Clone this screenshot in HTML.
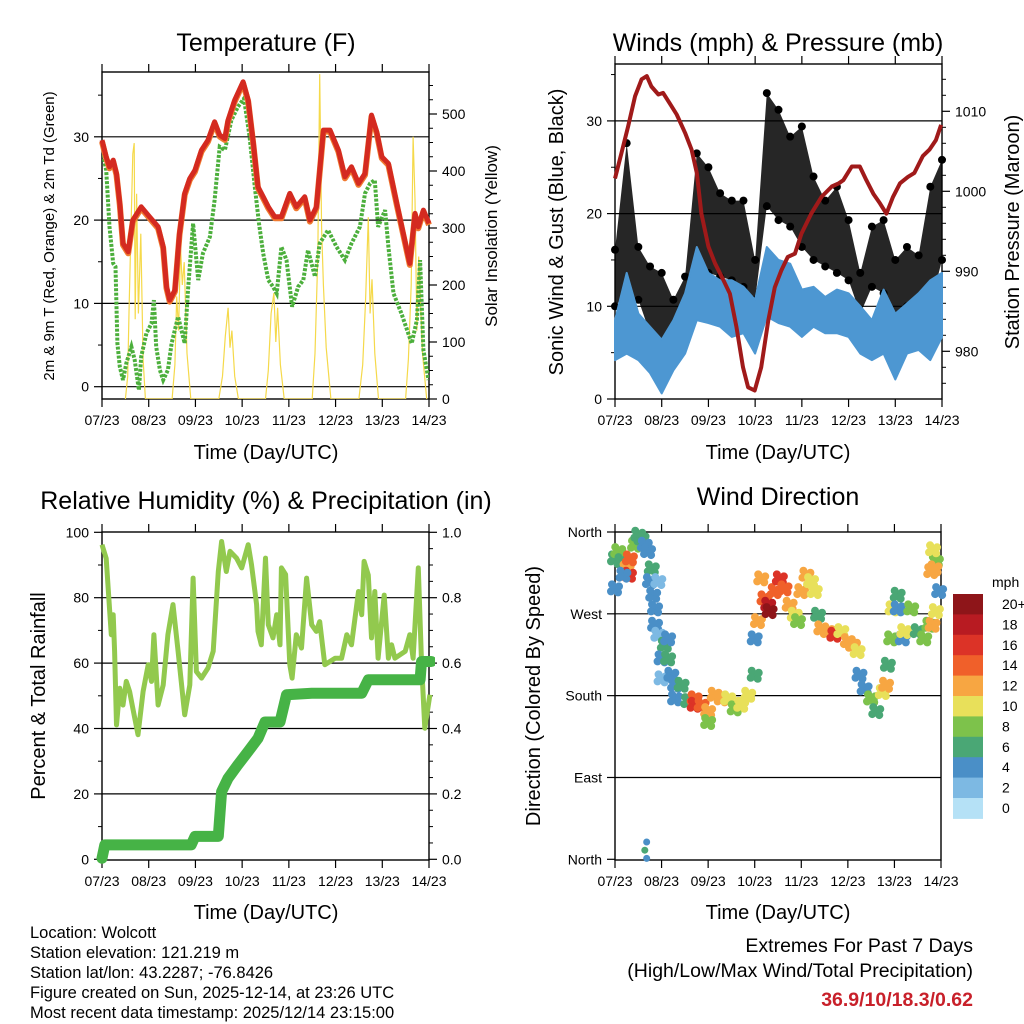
<!DOCTYPE html>
<html><head><meta charset="utf-8"><style>
html,body{margin:0;padding:0;background:#fff;}
svg{display:block;font-family:"Liberation Sans",Arial,sans-serif;}
</style></head><body>
<svg id="chart" width="1024" height="1024" viewBox="0 0 1024 1024" xmlns="http://www.w3.org/2000/svg">
<rect x="0" y="0" width="1024" height="1024" fill="#fff"/>
<g font-size="25" text-anchor="middle" fill="#000">
<text x="266" y="51">Temperature (F)</text>
<text x="778" y="51">Winds (mph) &amp; Pressure (mb)</text>
<text x="266" y="509">Relative Humidity (%) &amp; Precipitation (in)</text>
<text x="778" y="505">Wind Direction</text>
</g>
<g font-size="20" text-anchor="middle" fill="#000">
<text x="266" y="459">Time (Day/UTC)</text>
<text x="778" y="459">Time (Day/UTC)</text>
<text x="266" y="919">Time (Day/UTC)</text>
<text x="778" y="919">Time (Day/UTC)</text>
<text transform="translate(54,236) rotate(-90)" font-size="15">2m &amp; 9m T (Red, Orange) &amp; 2m Td (Green)</text>
<text transform="translate(497,236) rotate(-90)" font-size="17">Solar Insolation (Yellow)</text>
<text transform="translate(563,232) rotate(-90)">Sonic Wind &amp; Gust (Blue, Black)</text>
<text transform="translate(1019,232) rotate(-90)">Station Pressure (Maroon)</text>
<text transform="translate(45,696) rotate(-90)">Percent &amp; Total Rainfall</text>
<text transform="translate(540,696) rotate(-90)">Direction (Colored By Speed)</text>
</g>
<g font-size="16.5" fill="#000">
<text x="30" y="938">Location: Wolcott</text>
<text x="30" y="958">Station elevation: 121.219 m</text>
<text x="30" y="978">Station lat/lon: 43.2287; -76.8426</text>
<text x="30" y="998">Figure created on Sun, 2025-12-14, at 23:26 UTC</text>
<text x="30" y="1018">Most recent data timestamp: 2025/12/14 23:15:00</text>
</g>
<g text-anchor="end" font-size="19.5">
<text x="973" y="952">Extremes For Past 7 Days</text>
<text x="973" y="977">(High/Low/Max Wind/Total Precipitation)</text>
<text x="973" y="1006" font-size="19.5" font-weight="bold" fill="#c8202a">36.9/10/18.3/0.62</text>
</g>
<g id="plots"></g>
</svg>
<script>
// ---- shared
const dayLabels = ["07/23","08/23","09/23","10/23","11/23","12/23","13/23","14/23"];
// ---- temperature panel data (time in days)
const tempT = [0,.09,.16,.24,.31,.38,.45,.56,.66,.84,1.02,1.2,1.31,1.38,1.45,1.56,1.66,1.77,1.88,1.99,2.13,2.27,2.41,2.52,2.63,2.7,2.84,3.02,3.13,3.24,3.34,3.45,3.56,3.7,3.84,4.02,4.16,4.34,4.45,4.59,4.74,4.88,5.06,5.2,5.34,5.49,5.63,5.77,5.88,5.99,6.13,6.31,6.45,6.59,6.7,6.77,6.88,7.0];
const tempV = [29.6,27.6,26.4,27.2,25.6,22,17.2,16.2,20,21.6,20.4,19.2,16.8,12,10.4,11.6,18.4,23.2,25,26,28.4,29.6,31.8,30.2,29.8,32,34.4,36.6,34.4,29.2,24,22.8,21.6,20.4,20.4,23.2,21.6,22.8,20,21.6,30.8,30.8,28.4,25.2,26.4,24.4,25.6,32.6,30.6,27.6,26.8,22,18.4,14.8,20.8,19.2,21.2,19.6];
const dewT = [0,.09,.16,.24,.29,.33,.38,.45,.52,.63,.7,.79,.84,.95,1.06,1.11,1.16,1.24,1.31,1.41,1.49,1.63,1.77,1.84,1.95,2.06,2.16,2.31,2.41,2.52,2.63,2.77,2.91,3.04,3.16,3.27,3.36,3.45,3.56,3.66,3.74,3.84,3.95,4.07,4.2,4.31,4.41,4.56,4.66,4.84,5.02,5.2,5.34,5.52,5.63,5.74,5.84,5.91,6.06,6.13,6.24,6.41,6.63,6.74,6.81,6.88,6.99];
const dewV = [28.4,26,19.2,14.8,14.4,5.2,2.4,0.8,2.8,4.8,3.2,-0.4,3.6,6.4,7.6,10.4,4.8,2,0.8,2,5.2,8.4,5.2,11.6,19.6,12.8,16,18,22.4,28.8,28.4,32,33.6,34.6,30,24,19.6,16,12.8,12,11.2,16.8,15.2,9.6,12,12.8,16.4,13.2,17.2,18.8,16.8,15.2,17.2,19.2,23.2,24.4,24.8,19.2,21.2,16.8,11.2,8.8,5.2,8,15.2,4.4,0.8];
const solarT = [0.5,0.55,0.58,0.62,0.66,0.69,0.71,0.74,0.78,0.83,0.88,0.93, 1.5,1.56,1.6,1.64,1.68,1.72,1.76,1.82,1.9, 2.5,2.58,2.64,2.7,2.74,2.78,2.84,2.92, 3.5,3.56,3.62,3.68,3.72,3.76,3.82,3.9, 4.5,4.56,4.62,4.66,4.7,4.74,4.8,4.9, 5.5,5.58,5.64,5.7,5.74,5.78,5.84,5.92, 6.5,6.56,6.62,6.66,6.7,6.74,6.78,6.86,6.95];
const solarV = [0,40,160,300,430,449,140,360,150,290,70,0, 0,60,180,120,267,200,240,80,0, 0,40,110,160,90,120,40,0, 0,50,150,186,100,160,60,0, 0,80,250,570,300,200,90,0, 0,60,170,319,150,210,80,0, 0,70,200,460,350,120,250,80,0];
// ---- winds panel data
const windT = [0,.25,.5,.75,1,1.25,1.5,1.75,2,2.25,2.5,2.75,3,3.25,3.5,3.75,4,4.25,4.5,4.75,5,5.25,5.5,5.75,6,6.25,6.5,6.75,7];
const windLo = [4.2,4.9,4.2,2.8,0.6,3.1,4.9,8.5,8.2,7.8,6.7,7.1,4.9,8.9,8.2,7.8,6.7,7.8,7.1,7.1,6.7,4.9,4.2,4.9,2.1,4.9,5.3,4.2,6.7];
const windHi = [8.5,13.6,9.2,7.8,6.4,8.5,11.4,16.4,13.6,12.8,12.8,12.1,10.7,16.4,15,14.6,11.8,12.1,11,11.8,11.4,10,8.5,11.8,9.2,10.3,11.4,12.8,13.6];
const gustLo = [10,11.4,10.7,7.1,5.6,6.4,9.2,15,13.6,13.2,12.8,12.1,10.7,20.8,19.3,18.6,16.4,15,14.3,13.6,12.8,9.2,12.1,11.4,8.5,10,10.7,10,15];
const gustHi = [16.1,27.6,16.4,14.3,13.6,10.7,13.2,26.5,25,22.2,21.4,21.4,15,33,31.2,28.3,29.4,24,21.4,22.9,19.3,13.6,18.6,19.3,15,16.4,15.5,22.9,25.8];
const presT = [0,.14,.28,.43,.57,.68,.78,.93,1.03,1.17,1.32,1.5,1.64,1.75,1.85,2,2.14,2.32,2.46,2.6,2.74,2.85,2.99,3.13,3.28,3.42,3.56,3.7,3.85,3.99,4.2,4.42,4.64,4.79,4.89,5.07,5.24,5.38,5.53,5.67,5.81,5.95,6.1,6.27,6.41,6.59,6.73,6.87,6.98];
const presV = [1001.6,1004.8,1008.1,1011.9,1014,1014.4,1013.1,1012.1,1012.3,1011,1009.6,1007.3,1005.2,1002.3,997.2,993.1,991,988.9,987.2,983,978,975.5,975.1,978,983.8,988,990.1,991.8,992.2,994.7,997.2,999.3,1000.6,1001,1001.4,1003.1,1003.1,1001.4,999.7,998.5,997.2,999.3,1001,1001.8,1002.3,1004.4,1005.2,1006.4,1008.3];
// ---- humidity panel data
const rhT = [0,.09,.16,.2,.24,.27,.31,.38,.45,.52,.59,.66,.77,.88,.99,1.06,1.11,1.2,1.31,1.41,1.52,1.63,1.77,1.88,1.95,2.02,2.13,2.27,2.38,2.49,2.56,2.66,2.74,2.88,2.99,3.13,3.2,3.31,3.34,3.41,3.5,3.56,3.66,3.74,3.81,3.84,3.93,4.02,4.07,4.16,4.27,4.38,4.49,4.59,4.66,4.77,4.99,5.13,5.24,5.34,5.49,5.56,5.61,5.7,5.77,5.84,5.91,6.04,6.13,6.2,6.27,6.49,6.59,6.66,6.77,6.84,6.91,7.02];
const rhV = [96.2,92,76.8,68.7,74.8,63.6,41.1,52.3,47.2,54.4,51.3,46.2,38.1,51.3,59.5,54.4,68.7,47.2,53.3,68.7,77.9,63.6,44.2,53.3,86,57.4,55.4,58.5,63.6,88,97.2,88,94.2,92.1,89.1,96.2,90.1,77.9,69.7,65.6,92.1,71.7,67.7,74.8,65.6,89.1,87.1,59.5,55.4,68.7,64.6,86,71.7,69.7,72.7,59.5,61.5,61.5,68.7,65.6,81.9,74.8,91.1,86.9,67.7,81.9,61.5,80.8,61.5,65.6,61.5,63.6,68.7,61.5,89.1,60.5,40.1,50.3];
const rainT = [0,.06,1.91,1.99,2.49,2.56,2.7,2.91,3.13,3.34,3.49,3.81,3.95,4.49,5.56,5.7,6.81,6.84,7.05];
const rainV = [0.003,0.044,0.044,0.07,0.07,0.207,0.248,0.289,0.33,0.37,0.42,0.42,0.503,0.508,0.508,0.549,0.549,0.605,0.605];
// ---- wind direction data
const dirT = [0,.07,.14,.25,.32,.3,.18,0,.43,.5,.57,.64,.71,.79,.75,.93,.82,.86,.86,.93,1.07,1.14,1,1,1.14,1.21,1.29,1.43,1.29,1.57,1.71,1.71,1.86,2,2,2.14,2.29,2.43,2.57,2.71,2.86,3,3,3.07,3.14,3.21,3.29,3.32,3.43,3.54,3.64,3.75,3.86,3.93,4,4.11,4.21,4.29,4.36,4.43,4.57,4.71,4.86,5,5.11,5.21,5.25,5.36,5.5,5.5,5.61,5.75,5.82,5.86,5.93,5.96,6.07,6.07,6.18,6.21,6.36,6.5,6.64,6.75,6.82,6.89,6.96,6.89,6.86,6.79,6.83];
const dirV = [331,339,328,320,331,313,313,298,346,357,353,346,339,320,306,306,291,276,258,247,236,243,221,199,221,203,192,192,177,174,177,170,170,163,151,181,177,177,166,170,181,203,243,262,309,287,280,273,295,309,298,280,269,262,295,313,306,295,269,254,251,247,251,240,236,229,203,188,177,177,163,184,192,214,243,276,291,276,243,251,276,251,243,258,258,273,295,328,320,317,341];
const dirS = [6,8,6,12,14,16,4,4,8,6,6,4,4,6,4,2,4,4,4,2,6,4,4,2,6,4,4,6,4,6,14,16,14,12,8,12,12,10,8,10,10,6,4,12,12,14,18,20,14,16,14,12,10,8,12,12,10,10,6,12,12,16,10,12,12,10,4,4,6,8,6,10,12,6,8,10,6,4,4,10,8,6,8,8,12,10,4,8,12,12,10];
const dirExtraT = [0.68,0.64,0.68];
const dirExtraV = [19,10,1];
const dirExtraS = [4,6,4];
const speedColors = ["#b5e1f6","#7db9e3","#4a8fc7","#4aa775","#7dc24b","#e8e05a","#f7a642","#f0602a","#dc3327","#b81b22","#8e1519"];
const speedLabels = ["0","2","4","6","8","10","12","14","16","18","20+"];

const NS="http://www.w3.org/2000/svg";
const root=document.getElementById("plots");
function mk(tag,attrs,parent){const e=document.createElementNS(NS,tag);for(const k in attrs)e.setAttribute(k,attrs[k]);(parent||root).appendChild(e);return e;}
function pathFrom(ts,vs,fx,fy){return ts.map((t,i)=>(i?"L":"M")+fx(t).toFixed(1)+","+fy(vs[i]).toFixed(1)).join(" ");}

function frame(L,T,R,B,name){
  const g=mk("g",{});
  
  
  for(let d=0;d<=7;d++){
    const x=L+d*(R-L)/7;
    mk("line",{x1:x,x2:x,y1:B,y2:B+8,stroke:"#000","stroke-width":1.2},g);
    mk("line",{x1:x,x2:x,y1:T,y2:T-8,stroke:"#000","stroke-width":1.2},g);
    const tx=mk("text",{x:x,y:B+26,"font-size":14,"text-anchor":"middle"},g);
    tx.textContent=dayLabels[d];
    
    
  }
  return g;
}
function box(L,T,R,B,g){mk("rect",{x:L,y:T,width:R-L,height:B-T,fill:"none",stroke:"#000","stroke-width":1.4},g);}
function grid(ys,L,R,g){ys.forEach(y=>mk("line",{x1:L,x2:R,y1:y,y2:y,stroke:"#000","stroke-width":1.2},g));}
function yTicks(vals,fy,x,side,labels,g,minor){
  vals.forEach((v,i)=>{const y=fy(v);
    mk("line",{x1:x,x2:x+side*8,y1:y,y2:y,stroke:"#000","stroke-width":1.2},g);
    if(labels){const t=mk("text",{x:x+side*13,y:y+5,"font-size":14,"text-anchor":side<0?"end":"start"},g);
      t.textContent=labels[i];
      
      }
  });
  (minor||[]).forEach(v=>{const y=fy(v);mk("line",{x1:x,x2:x+side*4,y1:y,y2:y,stroke:"#000","stroke-width":1},g);});
}

// ===== Temperature
(function(){
  const L=102,R=429,T=72,B=399;
  const fx=d=>L+d*(R-L)/7, fy=v=>386.7-8.33*v, fs=v=>399-0.57*v;
  const g=frame(L,T,R,B,"temperature");
  grid([0,10,20,30].map(fy),L,R,g);
  const clip=mk("clipPath",{id:"c1"});mk("rect",{x:L,y:T,width:R-L,height:B-T},clip);
  const sp=mk("path",{d:pathFrom(solarT,solarV,fx,fs),fill:"none",stroke:"#f5d94a","stroke-width":1.2,"clip-path":"url(#c1)"});
  
  
  const dp=mk("path",{d:pathFrom(dewT,dewV,fx,fy),fill:"none",stroke:"#4caf3c","stroke-width":4,"stroke-dasharray":"3 1.5","clip-path":"url(#c1)"});
  
  
  const op=mk("path",{d:pathFrom(tempT,tempV,fx,v=>fy(v)+1.5),fill:"none",stroke:"#f07a30","stroke-width":6,"stroke-linejoin":"round"});
  
  
  const rp=mk("path",{d:pathFrom(tempT,tempV,fx,fy),fill:"none",stroke:"#d42a20","stroke-width":5,"stroke-linejoin":"round"});
  
  
  box(L,T,R,B,g);
  yTicks([0,10,20,30],fy,L,-1,["0","10","20","30"],g,[5,15,25,35]);
  yTicks([0,100,200,300,400,500],fs,R,1,["0","100","200","300","400","500"],g,[25,50,75,125,150,175,225,250,275,325,350,375,425,450,475,525,550]);
})();

// ===== Winds
(function(){
  const L=615,R=942,T=64,B=399;
  const fx=d=>L+d*(R-L)/7, fy=v=>399-9.27*v, fp=v=>191.3-8.0*(v-1000);
  const g=frame(L,T,R,B,"winds");
  grid([10,20,30].map(fy),L,R,g);
  const bandPath=(lo,hi)=>pathFrom(windT,hi,fx,fy)+" "+windT.slice().reverse().map((t,i)=>"L"+fx(t).toFixed(1)+","+fy(lo[lo.length-1-i]).toFixed(1)).join(" ")+"Z";
  const gb=mk("path",{d:bandPath(gustLo,gustHi),fill:"#000","fill-opacity":0.85,stroke:"none"});
  
  
  windT.forEach((t,i)=>{
    [gustHi[i],gustLo[i]].forEach(v=>{
      const c=mk("circle",{cx:fx(t),cy:fy(v),r:4,fill:"#000"});
      
      
    });
  });
  const wb=mk("path",{d:bandPath(windLo,windHi),fill:"#4d97d2",stroke:"#4d97d2","stroke-width":2,"stroke-linejoin":"round"});
  
  
  const pp=mk("path",{d:pathFrom(presT,presV,fx,fp),fill:"none",stroke:"#a01a1a","stroke-width":4,"stroke-linejoin":"round"});
  
  
  box(L,T,R,B,g);
  yTicks([0,10,20,30],fy,L,-1,["0","10","20","30"],g,[5,15,25,35]);
  yTicks([980,990,1000,1010],fp,R,1,["980","990","1000","1010"],g,[976,978,982,984,986,988,992,994,996,998,1002,1004,1006,1008,1012,1014]);
})();

// ===== Humidity
(function(){
  const L=102,R=429,T=532,B=860;
  const fx=d=>L+d*(R-L)/7, fy=v=>859.3-3.27*v, fr=v=>859.3-327*v;
  const g=frame(L,T,R,B,"humidity");
  grid([20,40,60,80].map(fy),L,R,g);
  const clip=mk("clipPath",{id:"c3"});mk("rect",{x:L-6,y:T,width:R-L+12,height:B-T+8},clip);
  const hp=mk("path",{d:pathFrom(rhT,rhV,fx,fy),fill:"none",stroke:"#92c94e","stroke-width":5,"stroke-linejoin":"round"});
  
  
  const rp=mk("path",{d:pathFrom(rainT,rainV,fx,fr),fill:"none",stroke:"#46b346","stroke-width":11,"stroke-linejoin":"round","stroke-linecap":"round","clip-path":"url(#c3)"});
  
  
  box(L,T,R,B,g);
  yTicks([0,20,40,60,80,100],fy,L,-1,["0","20","40","60","80","100"],g,[10,30,50,70,90]);
  yTicks([0,.2,.4,.6,.8,1],fr,R,1,["0.0","0.2","0.4","0.6","0.8","1.0"],g,[.05,.1,.15,.25,.3,.35,.45,.5,.55,.65,.7,.75,.85,.9,.95]);
})();

// ===== Wind direction
(function(){
  const L=615,R=941,T=532,B=860;
  const fx=d=>L+d*(R-L)/7, fy=v=>859.3-v/360*327.3;
  const g=frame(L,T,R,B,"direction");
  grid([90,180,270].map(fy),L,R,g);
  const ci=s=>Math.min(10,Math.floor(s/2));
  const offs=[[0,0],[3,4],[-3,-4],[4,-2],[-4,3]];
  dirT.forEach((t,i)=>{
    offs.forEach(o=>{
      const c=mk("circle",{cx:fx(t)+o[0],cy:fy(dirV[i])+o[1],r:4,fill:speedColors[ci(dirS[i])]});
      
      
    });
  });
  dirExtraT.forEach((t,i)=>{
    const c=mk("circle",{cx:fx(t),cy:fy(dirExtraV[i]),r:3.5,fill:speedColors[ci(dirExtraS[i])]});
    
    
  });
  box(L,T,R,B,g);
  yTicks([0,90,180,270,360],fy,L,-1,["North","East","South","West","North"],g,[]);
  const cb=mk("g",{});
  
  
  const top=594,h=20.4;
  const ttl=mk("text",{x:992,y:587,"font-size":14},cb);ttl.textContent="mph";
  
  
  for(let k=10;k>=0;k--){
    const y=top+(10-k)*h;
    const r=mk("rect",{x:953,y:y,width:30,height:h+0.5,fill:speedColors[k]},cb);
    
    
    const t=mk("text",{x:1002,y:y+15,"font-size":14},cb);t.textContent=speedLabels[k];
    
    
  }
})();
</script>
</body></html>
